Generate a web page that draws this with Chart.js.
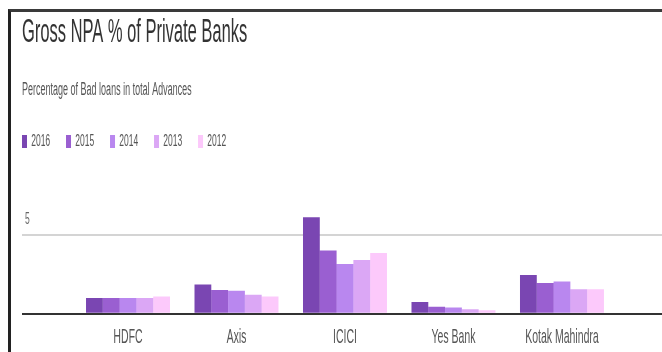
<!DOCTYPE html>
<html>
<head>
<meta charset="utf-8">
<script src="https://cdn.jsdelivr.net/npm/chart.js@4"></script>
<style>
  html, body { margin: 0; padding: 0; background: #fff; overflow: hidden; width: 662px; height: 352px; }
  #frame {
    position: absolute; left: 8px; top: 9px; width: 654px; height: 343px;
    border-left: 3px solid #222; border-top: 3px solid #3a3a3a;
    overflow: hidden;
  }
  /* the reference is squeezed sideways, so draw wide and squash it */
  #squash { width: 1302px; height: 348px; transform: scaleX(0.5); transform-origin: 0 0; }
</style>
</head>
<body>
<div id="frame">
  <div id="squash">
    <canvas id="chart" width="1302" height="348"></canvas>
  </div>
</div>
<script>
const BANKS = ['HDFC', 'Axis', 'ICICI', 'Yes Bank', 'Kotak Mahindra'];
const YEARS = ['2016', '2015', '2014', '2013', '2012'];
const NPA_2016 = [1.0, 1.85, 6.1, 0.75, 2.45];
const NPA_2015 = [1.0, 1.5, 4.0, 0.45, 1.95];
const NPA_2014 = [1.0, 1.45, 3.15, 0.4, 2.05];
const NPA_2013 = [1.0, 1.2, 3.4, 0.28, 1.55];
const NPA_2012 = [1.1, 1.1, 3.85, 0.22, 1.55];
const Y_TICKS = [0, 5];

const colores = ['#7a46b2', '#9a5fd1', '#b987ef', '#dba7f5', '#fcc9fb'];
const series = [NPA_2016, NPA_2015, NPA_2014, NPA_2013, NPA_2012];
const LEGEND_PAD = 31.7;

Chart.defaults.font.family = '"Liberation Sans", Arial, sans-serif';

// legend items start "padding" px in from the left, pull them back to line up with the title
const nudgeLegend = {
  id: 'nudgeLegend',
  afterLayout(chart) {
    chart.legend.left -= LEGEND_PAD;
  }
};

const canvas = document.getElementById('chart');

const grafico = new Chart(canvas, {
  type: 'bar',
  data: {
    labels: BANKS.map((b, i) => i),
    datasets: YEARS.map((y, i) => ({
      label: y,
      data: series[i],
      backgroundColor: colores[i],
      borderWidth: 0,
      categoryPercentage: 0.774,
      barPercentage: 1
    }))
  },
  options: {
    responsive: false,
    animation: false,
    devicePixelRatio: 1,
    layout: { padding: { left: 22, right: 0, top: 0, bottom: 0 } },
    plugins: {
      title: {
        display: true,
        text: 'Gross NPA % of Private Banks',
        align: 'start',
        color: '#333',
        font: { size: 33, weight: 'normal' },
        padding: { top: 1, bottom: 27 }
      },
      subtitle: {
        display: true,
        text: 'Percentage of Bad loans in total Advances',
        align: 'start',
        color: '#555',
        font: { size: 18 },
        padding: { top: 0, bottom: 0 }
      },
      legend: {
        position: 'top',
        align: 'start',
        labels: {
          boxWidth: 10,
          boxHeight: 13,
          padding: LEGEND_PAD,
          color: '#555',
          font: { size: 17 }
        }
      },
      tooltip: { enabled: false }
    },
    scales: {
      x: {
        type: 'linear',
        offset: false,
        min: -0.977,
        max: 4.922,
        afterBuildTicks: s => { s.ticks = BANKS.map((b, i) => ({ value: i })); },
        grid: { display: false, drawTicks: false },
        border: { display: false },
        ticks: {
          callback: v => BANKS[v],
          color: '#555',
          font: { size: 21 },
          padding: 10.5,
          maxRotation: 0,
          autoSkip: false
        }
      },
      y: {
        min: 0,
        max: 9.73,
        afterBuildTicks: s => { s.ticks = Y_TICKS.map(v => ({ value: v })); },
        afterFit: s => { s.width = 0; },
        border: { display: false },
        grid: {
          drawTicks: false,
          color: c => c.tick.value === 0 ? '#333' : '#d4d4d4',
          lineWidth: 2
        },
        ticks: {
          mirror: true,
          padding: 6,
          labelOffset: -15,
          color: '#666',
          font: { size: 17 },
          callback: v => v === 0 ? '' : v
        }
      }
    }
  },
  plugins: [nudgeLegend]
});
</script>
</body>
</html>
